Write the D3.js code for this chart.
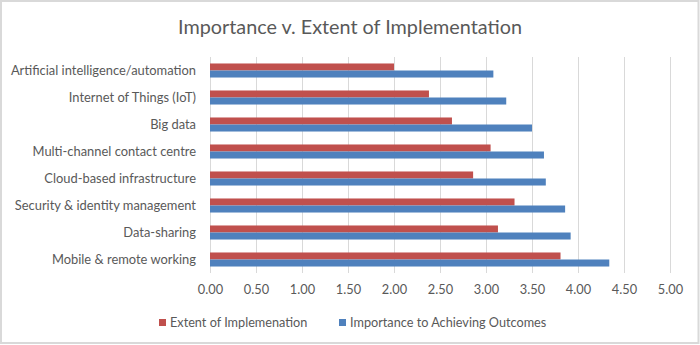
<!DOCTYPE html>
<html><head><meta charset="utf-8">
<script src="https://cdn.jsdelivr.net/npm/d3@7/dist/d3.min.js"></script>
<style>
html,body{margin:0;padding:0;background:#fff;}
svg{display:block;}
text{font-family:Lato,"Open Sans",sans-serif;fill:#595959;}
</style></head>
<body>
<svg id="chart" width="700" height="345"></svg>
<script>
const categories = ["Artificial intelligence/automation","Internet of Things (IoT)","Big data","Multi-channel contact centre","Cloud-based infrastructure","Security & identity management","Data-sharing","Mobile & remote working"];
const extentValues = [2.00, 2.38, 2.63, 3.05, 2.86, 3.31, 3.13, 3.81];
const importanceValues = [3.08, 3.22, 3.50, 3.63, 3.65, 3.86, 3.92, 4.34];
const seriesNames = ["Extent of Implemenation", "Importance to Achieving Outcomes"];
const xTicks = [0, 0.5, 1, 1.5, 2, 2.5, 3, 3.5, 4, 4.5, 5];
const title = "Importance v. Extent of Implementation";

const colors = ["#c0504d", "#4f81bd"];
const svg = d3.select("#chart");
const W = 700, H = 345;
const m = {left: 210, right: 30, top: 57, bottom: 72};

svg.append("rect").attr("x",1).attr("y",1).attr("width",W-2.5).attr("height",H-3)
  .attr("fill","#fff").attr("stroke","#d9d9d9").attr("stroke-width",2);

svg.append("text").attr("x",350).attr("y",34).attr("text-anchor","middle")
  .style("font-size","19.8px").text(title);

const x = d3.scaleLinear().domain([0,5]).range([m.left, W - m.right]);
const y = d3.scaleBand().domain(categories).range([m.top, H - m.bottom]).paddingInner(0.48).paddingOuter(0.24);
const sub = d3.scaleBand().domain([0,1]).range([0, y.bandwidth()]);

const xAxis = svg.append("g").attr("transform",`translate(0,${H - m.bottom})`)
  .call(d3.axisBottom(x).tickValues(xTicks).tickFormat(d3.format(".2f")).tickSize(-(H - m.bottom - m.top)).tickPadding(12));
xAxis.select(".domain").remove();
xAxis.selectAll(".tick line").attr("stroke","#d9d9d9");
xAxis.selectAll(".tick text").style("font-size","12.8px").attr("fill","#595959");

const yAxis = svg.append("g").attr("transform",`translate(${m.left},0)`)
  .call(d3.axisLeft(y).tickSize(0).tickPadding(14));
yAxis.select(".domain").remove();
yAxis.selectAll(".tick text").style("font-size","12.9px").attr("fill","#595959");

const series = [extentValues, importanceValues];
series.forEach((vals, si) => {
  svg.append("g").selectAll("rect").data(categories).join("rect")
    .attr("x", x(0))
    .attr("y", d => y(d) + sub(si))
    .attr("width", (d,i) => x(vals[i]) - x(0))
    .attr("height", sub.bandwidth())
    .attr("fill", colors[si]);
});

const legend = svg.append("g");
const lx = [159, 339];
seriesNames.forEach((n, i) => {
  legend.append("rect").attr("x", lx[i]).attr("y", 319).attr("width", 7).attr("height", 7).attr("fill", colors[i]);
  legend.append("text").attr("x", lx[i] + 11).attr("y", 327).style("font-size","12.7px").text(n);
});
</script>
</body></html>
